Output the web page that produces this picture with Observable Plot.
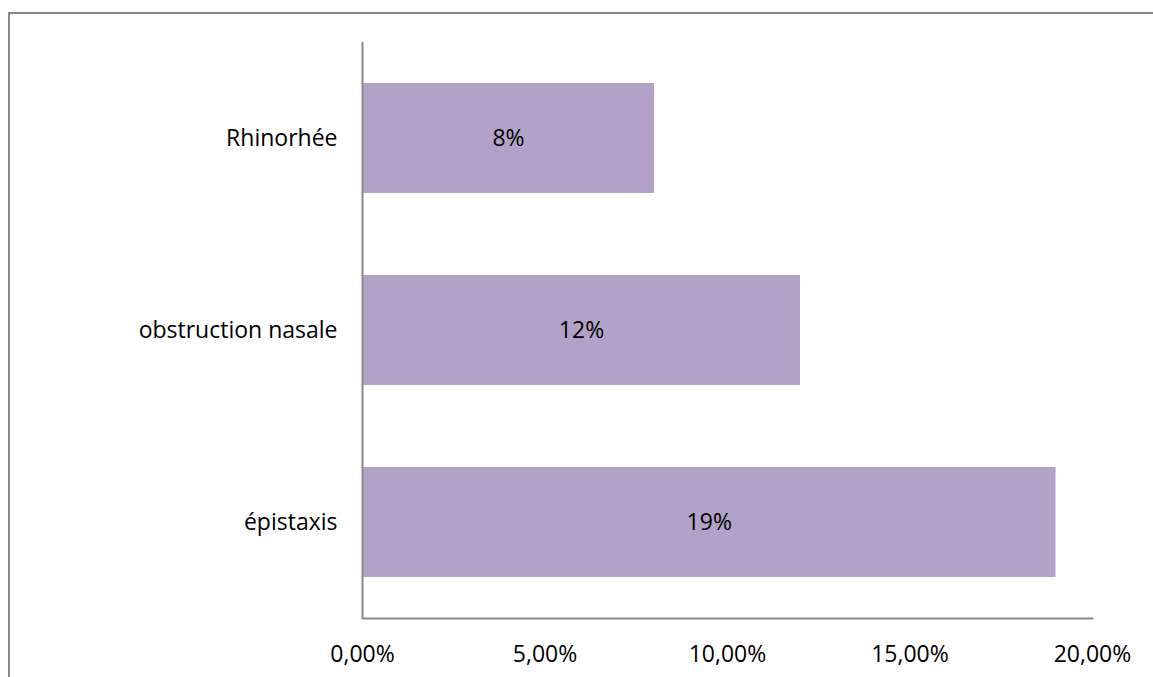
<!DOCTYPE html>
<html>
<head>
<meta charset="utf-8">
<script src="https://cdn.jsdelivr.net/npm/d3@7"></script>
<script src="https://cdn.jsdelivr.net/npm/@observablehq/plot@0.6"></script>
<style>
  html, body { margin: 0; padding: 0; background: #fff; overflow: hidden; }
  #wrap { position: relative; width: 1153px; height: 677px; }
  #border { position: absolute; left: 8px; top: 12px; width: 1300px; height: 800px; border: 2px solid #878787; box-sizing: border-box; pointer-events: none; }
  #chart { position: absolute; left: 0; top: 0; }
</style>
</head>
<body>
<div id="wrap">
  <div id="border"></div>
  <div id="chart"></div>
</div>
<script>
const categories = ["Rhinorhée", "obstruction nasale", "épistaxis"];
const values = [8, 12, 19];
const valueLabels = ["8%", "12%", "19%"];
const xTicks = [0, 5, 10, 15, 20];

const data = categories.map((c, i) => ({category: c, value: values[i], label: valueLabels[i]}));
const fmt = d => d.toFixed(2).replace(".", ",") + "%";

const chart = Plot.plot({
  width: 1153,
  height: 677,
  marginLeft: 362,
  marginRight: 61,
  marginTop: 42,
  marginBottom: 59,
  style: {fontFamily: "'Open Sans', sans-serif", fontSize: "23px", color: "#000", background: "transparent"},
  x: {domain: [0, 20], ticks: xTicks, tickFormat: fmt, tickSize: 0, tickPadding: 27, label: null},
  y: {domain: categories, paddingInner: 0.427, paddingOuter: 0.2135, tickSize: 0, tickPadding: 25, label: null},
  marks: [
    Plot.barX(data, {x: "value", y: "category", fill: "#b3a2c8"}),
    Plot.text(data, {x: d => d.value / 2, y: "category", text: "label", fill: "#000", fontSize: 23}),
    Plot.ruleX([0], {stroke: "#8a8a8a", strokeWidth: 2}),
    Plot.frame({anchor: "bottom", stroke: "#8a8a8a", strokeWidth: 2})
  ]
});
document.getElementById("chart").appendChild(chart);
</script>
</body>
</html>
